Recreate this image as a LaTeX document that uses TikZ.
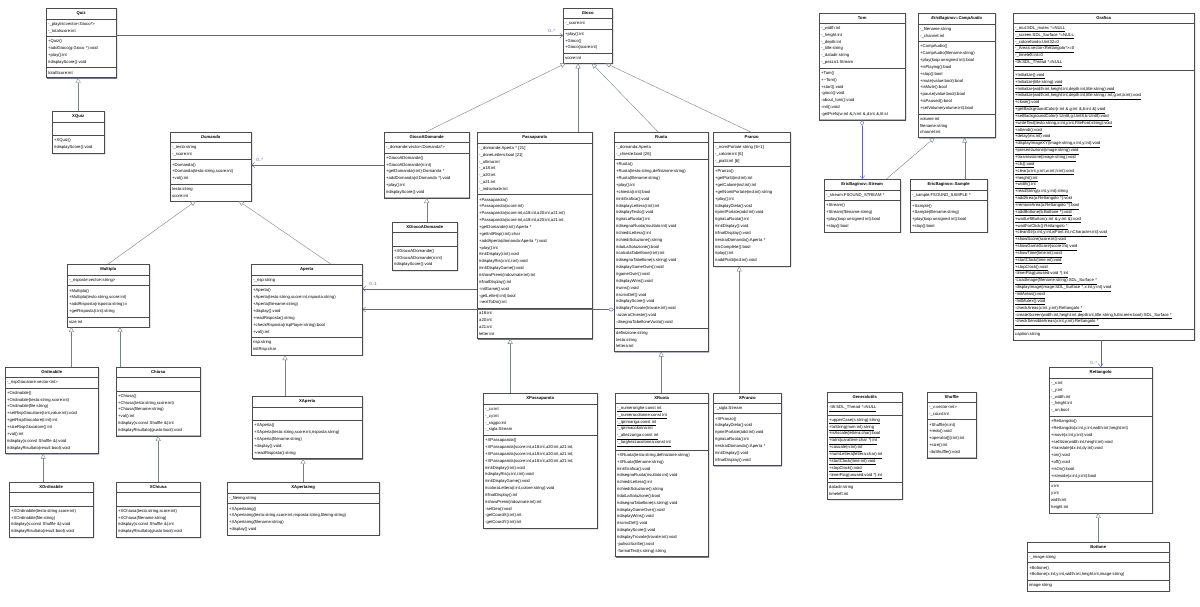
\documentclass[tikz,border=0pt]{standalone}
\usepackage{fontspec}
\setmainfont{Liberation Sans}
\usetikzlibrary{shapes.multipart,arrows.meta,shadows}
\definecolor{cc}{RGB}{40, 40, 110}
\definecolor{assoc}{RGB}{90, 90, 200}
\definecolor{inh}{RGB}{120, 130, 130}
\newcommand{\ctitle}[1]{\makebox[\linewidth]{\textbf{#1}}}
\newcommand{\cit}[1]{\makebox[\linewidth]{\textbf{\textit{#1}}}}
\tikzset{
  cls/.style={rectangle split, rectangle split parts=3, draw=black!70, fill=white,
    anchor=north west, align=left, inner xsep=2pt, inner ysep=3.2pt,
    font=\fontsize{4.2}{6.85}\selectfont,
    drop shadow={shadow xshift=1pt, shadow yshift=-1pt, fill=cc, opacity=1}},
  cls4/.style={cls, rectangle split parts=4},
  inherit/.style={draw=inh, -{Triangle[open, length=5pt, width=5pt]}},
  assoc/.style={draw=assoc, -{Straight Barb[length=3pt, width=5pt]}},
  aggr/.style={draw=assoc, {Diamond[open, length=6pt, width=4pt]}-{Straight Barb[length=3pt, width=5pt]}},
  mult/.style={text=assoc, font=\fontsize{4.5}{5}\selectfont}
}
\begin{document}
\begin{tikzpicture}[x=1pt, y=1pt]
\fill[white] (0,0) rectangle (1200,-607);
\useasboundingbox (0,0) rectangle (1200,-607);
% left part: quiz and domande
\node (quiz) [cls4, text width=66pt] at (46,-8) {\ctitle{Quiz}
  \nodepart{two}-\_playlist:vector<Gioco*>\\-\_totalscore:int
  \nodepart{three}+Quiz()\\+addGioco(g:Gioco *):void\\+play():int\\\#displayScore():void
  \nodepart{four}totalScore:int};
\node (xquiz) [cls, text width=48pt] at (52,-111) {\ctitle{XQuiz}
  \nodepart{two}\strut
  \nodepart{three}+XQuiz()\\\#displayScore():void};
\node (domanda) [cls4, text width=77pt] at (170,-132) {\cit{Domanda}
  \nodepart{two}-\_testo:string\\-\_score:int
  \nodepart{three}+Domanda()\\+Domanda(testo:string,score:int)\\+val():int
  \nodepart{four}testo:string\\score:int};
\node (multipla) [cls4, text width=78pt] at (67,-264) {\ctitle{Multipla}
  \nodepart{two}-\_risposte:vector<string>
  \nodepart{three}+Multipla()\\+Multipla(testo:string,score:int)\\+addRisposta(risposta:string):v\\+getRisposta(i:int):string
  \nodepart{four}size:int};
\node (aperta) [cls4, text width=107pt] at (251,-264) {\ctitle{Aperta}
  \nodepart{two}-\_risp:string
  \nodepart{three}+Aperta()\\+Aperta(testo:string,score:int,risposta:string)\\+Aperta(filename:string)\\+display():void\\+readRisposta():string\\+checkRisposta(rispPlayer:string):bool\\+val():int
  \nodepart{four}risp:string\\initRisp:char};
\node (ordinabile) [cls, text width=89pt] at (5,-367) {\ctitle{Ordinabile}
  \nodepart{two}-\_rispGiocatore:vector<int>
  \nodepart{three}+Ordinabile()\\+Ordinabile(testo:string,score:int)\\+Ordinabile(file:string)\\+setRispGiocatore(i:int,value:int):void\\+getRispGiocatore(i:int):int\\+sizeRispGiocatore():int\\+val():int\\\#display(s:const Shuffle \&):void\\\#displayRisultato(result:bool):void};
\node (chiusa) [cls, text width=80pt] at (116,-367) {\ctitle{Chiusa}
  \nodepart{two}\strut
  \nodepart{three}+Chiusa()\\+Chiusa(testo:string,score:int)\\+Chiusa(filename:string)\\+val():int\\\#display(s:const Shuffle \&):int\\\#displayRisultato(giusto:bool):void};
\node (xordinabile) [cls, text width=80pt] at (9,-482) {\ctitle{XOrdinabile}
  \nodepart{two}\strut
  \nodepart{three}+XOrdinabile(testo:string,score:int)\\+XOrdinabile(file:string)\\\#display(s:const Shuffle \&):void\\\#displayRisultato(result:bool):void};
\node (xchiusa) [cls, text width=80pt] at (116,-482) {\ctitle{XChiusa}
  \nodepart{two}\strut
  \nodepart{three}+XChiusa(testo:string,score:int)\\+XChiusa(filename:string)\\\#display(s:const Shuffle \&):int\\\#displayRisultato(giusto:bool):void};
\node (xaperta) [cls, text width=106pt] at (252,-396) {\ctitle{XAperta}
  \nodepart{two}\strut
  \nodepart{three}+XAperta()\\+XAperta(testo:string,score:int,risposta:string)\\+XAperta(filename:string)\\+display():void\\+readRisposta():string};
\node (xapertaimg) [cls, text width=148pt] at (227,-482) {\ctitle{XApertaimg}
  \nodepart{two}-\_fileimg:string
  \nodepart{three}+XApertaimg()\\+XApertaimg(testo:string,score:int,risposta:string,fileimg:string)\\+XApertaimg(filename:string)\\+display():void};
% centre: giochi
\node (gioco) [cls4, text width=45pt] at (563,-8) {\ctitle{Gioco}
  \nodepart{two}-\_score:int
  \nodepart{three}+play():int\\+Gioco()\\+Gioco(score:int)
  \nodepart{four}score:int};
\node (giocoadomande) [cls, text width=81pt] at (384,-132) {\ctitle{GiocoADomande}
  \nodepart{two}-\_domande:vector<Domanda*>
  \nodepart{three}+GiocoADomande()\\+GiocoADomande(n:int)\\+getDomanda(i:int):Domanda *\\+addDomanda(d:Domanda *):void\\+play():int\\\#displayScore():void};
\node (xgiocoadomande) [cls, text width=61pt] at (392,-222) {\ctitle{XGiocoADomande}
  \nodepart{two}\strut
  \nodepart{three}+XGiocoADomande()\\+XGiocoADomande(n:int)\\\#displayScore():void};
\node (passaparola) [cls4, text width=111pt] at (477,-132) {\ctitle{Passaparola}
  \nodepart{two}-\_domande:Aperta * [21]\\-\_doneLetters:bool [21]\\-\_ultima:int\\-\_a18:int\\-\_a20:int\\-\_a21:int\\-\_indovinate:int
  \nodepart{three}+Passaparola()\\+Passaparola(score:int)\\+Passaparola(score:int,a18:int,a20:int,a21:int)\\+Passaparola(score:int,a18:int,a20:int,a21:int,\\+getDomande(i:int):Aperta *\\+getInitRisp(i:int):char\\+addAperta(domanda:Aperta *):void\\+play():int\\\#initDisplay(i:int):void\\\#displayRis(x:int,i:int):void\\\#initDisplayGame():void\\\#showPremi(indovinate:int):int\\\#finalDisplay():int\\-initGame():void\\-getLetter(i:int):bool\\-nextToDo():int
  \nodepart{four}a18:int\\a20:int\\a21:int\\letter:int};
\node (ruota) [cls4, text width=90pt] at (614,-132) {\ctitle{Ruota}
  \nodepart{two}-\_domanda:Aperta\\-\_chieste:bool [26]
  \nodepart{three}+Ruota()\\+Ruota(testo:string,definizione:string)\\+Ruota(filename:string)\\+play():int\\+chiesta(i:int):bool\\\#initGrafica():void\\\#displayLettera(i:int):int\\\#displayTesto():void\\\#giraLaRuota():int\\\#disegnaRuota(risultato:int):void\\\#chiediLettera():int\\\#chiediSoluzione():string\\\#daiLaSoluzione():bool\\\#calcolaTabellone(i:int):int\\\#disegnaTabellone(s:string):void\\\#displayGameOver():void\\\#gameOver():void\\\#displayWins():void\\\#wins():void\\\#scriviDef():void\\\#displayScore():void\\\#displayTrovate(trovate:int):void\\-azzeraChieste():void\\-disegnaTabelloneVuoto():void
  \nodepart{four}definizione:string\\testo:string\\lettera:int};
\node (pranzo) [cls, text width=73pt] at (713,-132) {\ctitle{Pranzo}
  \nodepart{two}-\_nomiPortate:string [6+1]\\-\_calorie:int [6]\\-\_piatti:int [6]
  \nodepart{three}+Pranzo()\\+getPiatti(ind:int):int\\+getCalorie(ind:int):int\\+getNomiPortate(ind:int):string\\+play():int\\\#displayDieta():void\\\#printPortate(add:int):void\\\#giraLaRuota():int\\\#initDisplay():void\\\#finalDisplay():void\\\#estraiDomanda():Aperta *\\\#isComplete():bool\\\#play():int\\\#addPiatti(ind:int):void};
\node (xpassaparola) [cls, text width=110pt] at (483,-393) {\ctitle{XPassaparola}
  \nodepart{two}-\_cx:int\\-\_cy:int\\-\_raggio:int\\-\_sigla:Stream
  \nodepart{three}+XPassaparola()\\+XPassaparola(score:int,a18:int,a20:int,a21:int,\\+XPassaparola(score:int,a18:int,a20:int,a21:int,\\+XPassaparola(score:int,a18:int,a20:int,a21:int,\\\#initDisplay(i:int):void\\\#displayRis(x:int,i:int):void\\\#initDisplayGame():void\\\#coloraLettera(i:int,colore:string):void\\\#finalDisplay():int\\\#showPremi(indovinate:int):int\\-setGeo():void\\-getCoordX(i:int):int\\-getCoordY(i:int):int};
\node (xruota) [cls, text width=89pt] at (615,-393) {\ctitle{XRuota}
  \nodepart{two}\underline{-\_numerorighe:const int}\\\underline{-\_numerocolonne:const int}\\\underline{-\_iprimariga:const int}\\-\_iprimacolonna:int\\\underline{-\_altezzariga:const int}\\\underline{-\_larghezzacolonna:const int}
  \nodepart{three}+XRuota(testo:string,definizione:string)\\+XRuota(filename:string)\\\#initGrafica():void\\\#disegnaRuota(risultato:int):void\\\#chiediLettera():int\\\#chiediSoluzione():string\\\#daiLaSoluzione():bool\\\#disegnaTabellone(s:string):void\\\#displayGameOver():void\\\#displayWins():void\\\#scriviDef():void\\\#displayScore():void\\\#displayTrovate(trovate:int):void\\-pulisciScritte():void\\-formatText(s:string):string};
\node (xpranzo) [cls, text width=64pt] at (713,-393) {\ctitle{XPranzo}
  \nodepart{two}-\_sigla:Stream
  \nodepart{three}+XPranzo()\\\#displayDieta():void\\\#printPortate(add:int):void\\\#giraLaRuota():int\\\#estraiDomanda():Aperta *\\\#initDisplay():void\\\#finalDisplay():void};
% right part: audio, grafica, utilities
\node (tom) [cls, text width=82pt] at (819,-13) {\ctitle{Tom}
  \nodepart{two}-\_width:int\\-\_height:int\\-\_depth:int\\-\_title:string\\-\_datadir:string\\-\_pezzo1:Stream
  \nodepart{three}+Tom()\\+\textasciitilde Tom()\\+start():void\\-gioco():void\\-about\_tom():void\\-init():void\\-getPrefs(w:int \&,h:int \&,d:int \&,tit:st};
\node (campaudio) [cls4, text width=73pt] at (918,-13) {\cit{EricBaginov::CampAudio}
  \nodepart{two}-\_filename:string\\-\_channel:int
  \nodepart{three}+CampAudio()\\+CampAudio(filename:string)\\+play(loop:unsigned int):bool\\+isPlaying():bool\\+stop():bool\\+mute(value:bool):bool\\+isMute():bool\\+pause(value:bool):bool\\+isPaused():bool\\+setVolume(volume:int):bool
  \nodepart{four}volume:int\\filename:string\\channel:int};
\node (stream) [cls, text width=72pt] at (824,-179) {\ctitle{EricBaginov::Stream}
  \nodepart{two}-\_stream:FSOUND\_STREAM *
  \nodepart{three}+Stream()\\+Stream(filename:string)\\+play(loop:unsigned int):bool\\+stop():bool};
\node (sample) [cls, text width=73pt] at (910,-179) {\ctitle{EricBaginov::Sample}
  \nodepart{two}-\_sample:FSOUND\_SAMPLE *
  \nodepart{three}+Sample()\\+Sample(filename:string)\\+play(loop:unsigned int):bool\\+stop():bool};
\node (grafica) [cls4, text width=177pt] at (1013,-13) {\ctitle{Grafica}
  \nodepart{two}\underline{-\_mut:SDL\_mutex *=NULL}\\\underline{-\_screen:SDL\_Surface *=NULL}\\\underline{-\_colorefondo:Uint32=0}\\\underline{-\_Areas:vector<Rettangolo*>=0}\\\underline{-\_timeleft:int=0}\\\underline{-tth:SDL\_Thread *=NULL}
  \nodepart{three}\underline{+Initialize():void}\\\underline{+Initialize(title:string):void}\\\underline{+Initialize(width:int,height:int,depth:int,title:string):void}\\\underline{+Initialize(width:int,height:int,depth:int,title:string,r:int,g:int,b:int):void}\\\underline{+close():void}\\\underline{+getBackgroundColor(r:int \&,g:int \&,b:int \&):void}\\\underline{+setBackgroundColor(r:Uint8,g:Uint8,b:Uint8):void}\\\underline{+writeText(testo:string,x:int,y:int,FileFont:string):void}\\\underline{+attendi():void}\\\underline{+delay(ms:int):void}\\\underline{+displayImageXY(image:string,x:int,y:int):void}\\\underline{+presentazione(image:string):void}\\\underline{+trasmissione(image:string):void}\\\underline{+cls():void}\\\underline{+clear(x:int,y:int,w:int,h:int):void}\\\underline{+height():int}\\\underline{+width():int}\\\underline{+readString(x:int,y:int):string}\\\underline{+addArea(a:Rettangolo *):void}\\\underline{+removeArea(a:Rettangolo *):bool}\\\underline{+addBottone(b:Bottone *):void}\\\underline{+waitLeftButton(x:int \&,y:int \&):void}\\\underline{+waitForClick():Rettangolo *}\\\underline{+cleanStr(x:int,y:int,wFont:int,nCharacter:int):void}\\\underline{+showScore(score:int):void}\\\underline{+showGameScore(score:int):void}\\\underline{+showTime(time:int):void}\\\underline{+startClock(time:int):void}\\\underline{+stopClock():void}\\\underline{-timerFlag(unused:void *):int}\\\underline{-LoadImage(filename:string):SDL\_Surface *}\\\underline{-displayImage(image:SDL\_Surface *,x:int,y:int):void}\\\underline{-InitAreas():void}\\\underline{-InitMutex():void}\\\underline{-checkAreas(x:int,y:int):Rettangolo *}\\\underline{-createScreen(width:int,height:int,depth:int,title:string,fullscreen:bool):SDL\_Surface *}\\\underline{-checkSensibleAreas(x:int,y:int):Rettangolo *}
  \nodepart{four}caption:string};
\node (generalutils) [cls4, text width=71pt] at (827,-392) {\ctitle{Generalutils}
  \nodepart{two}\underline{-tth:SDL\_Thread *=NULL}
  \nodepart{three}\underline{+upperCase(s:string):string}\\\underline{+toString(num:int):string}\\\underline{+isAscale(lettera:char):bool}\\\underline{+toInt(carattere:char *):int}\\\underline{+casuale(n:int):int}\\\underline{+numLettera(lettera:char):int}\\\underline{+startClock(time:int):void}\\\underline{+stopClock():void}\\\underline{-timerFlag(unused:void *):int}
  \nodepart{four}datadir:string\\timeleft:int};
\node (shuffle) [cls, text width=45pt] at (927,-392) {\ctitle{Shuffle}
  \nodepart{two}-\_v:vector<int>\\-\_count:int
  \nodepart{three}+Shuffle(n:int)\\+redo():void\\+operator[](i:int):int\\+size():int\\-doShuffle():void};
\node (rettangolo) [cls4, text width=99pt] at (1049,-367) {\ctitle{Rettangolo}
  \nodepart{two}-\_x:int\\-\_y:int\\-\_width:int\\-\_height:int\\-\_on:bool
  \nodepart{three}+Rettangolo()\\+Rettangolo(x:int,y:int,width:int,height:int)\\+move(x:int,y:int):void\\+setSize(width:int,height:int):void\\+translate(dx:int,dy:int):void\\+on():void\\+off():void\\+isOn():bool\\+isInside(x:int,y:int):bool
  \nodepart{four}x:int\\y:int\\width:int\\height:int};
\node (bottone) [cls4, text width=138pt] at (1027,-542) {\ctitle{Bottone}
  \nodepart{two}-\_image:string
  \nodepart{three}+Bottone()\\+Bottone(x:int,y:int,width:int,height:int,image:string)
  \nodepart{four}image:string};
% generalizations
\draw [inherit] (xquiz.north) -- (xquiz.north |- quiz.south);
\draw [inherit] (multipla.north) -- ([xshift=-15pt]domanda.south);
\draw [inherit] ([xshift=24pt]aperta.north) -- ([xshift=28pt]domanda.south);
\draw [inherit] ([xshift=-27pt]ordinabile.north east) -- ([xshift=-27pt]ordinabile.north east |- multipla.south);
\draw [inherit] ([xshift=4pt]chiusa.north west) -- ([xshift=4pt]chiusa.north west |- multipla.south);
\draw [inherit] ([xshift=-8pt]xordinabile.north) -- ([xshift=-8pt]xordinabile.north |- ordinabile.south);
\draw [inherit] (xchiusa.north) -- (xchiusa.north |- chiusa.south);
\draw [inherit] ([xshift=33pt]xaperta.north west) -- ([xshift=33pt]xaperta.north west |- aperta.south);
\draw [inherit] ([xshift=76pt]xapertaimg.north west) -- ([xshift=76pt]xapertaimg.north west |- xaperta.south);
\draw [inherit] ([xshift=-1pt]giocoadomande.north) -- ([xshift=-22pt]gioco.south);
\draw [inherit] ([xshift=101pt]passaparola.north west) -- ([xshift=101pt]passaparola.north west |- gioco.south);
\draw [inherit] ([xshift=-3pt]ruota.north) -- ([xshift=4pt]gioco.south);
\draw [inherit] ([xshift=-1pt]pranzo.north) -- ([xshift=18pt]gioco.south);
\draw [inherit] (xgiocoadomande.north -| giocoadomande.south) -- (giocoadomande.south);
\draw [inherit] ([xshift=-30pt]xpassaparola.north) -- ([xshift=-30pt]xpassaparola.north |- passaparola.south);
\draw [inherit] (xruota.north -| ruota.south) -- (ruota.south);
\draw [inherit] ([xshift=-8pt]xpranzo.north) -- ([xshift=-8pt]xpranzo.north |- pranzo.south);
\draw [inherit] ([xshift=-14pt]stream.north east) -- ([xshift=-22pt]campaudio.south);
\draw [inherit] ([xshift=16pt]sample.north) -- ([xshift=16pt]sample.north |- campaudio.south);
\draw [inherit] (bottone.north) -- (bottone.north |- rettangolo.south);
% associations
\draw [assoc] (quiz.east |- gioco.west) -- (gioco.west) node [mult, above left, pos=0.99] {0..*};
\draw [assoc] (giocoadomande.west) -- (domanda.east |- giocoadomande.west) node [mult, above right, pos=0.99] {0..*};
\draw [assoc] (passaparola.west |- 0,-289) -- (aperta.east |- 0,-289) node [mult, above right, pos=0.97] {0..1};
\draw [aggr] (ruota.west |- aperta.east) -- (aperta.east);
\draw [aggr] (tom.south) -- (tom.south |- stream.north);
\draw [assoc] (grafica.south -| rettangolo.north) -- (rettangolo.north) node [mult, left, pos=0.85] {0..*};
\end{tikzpicture}
\end{document}
